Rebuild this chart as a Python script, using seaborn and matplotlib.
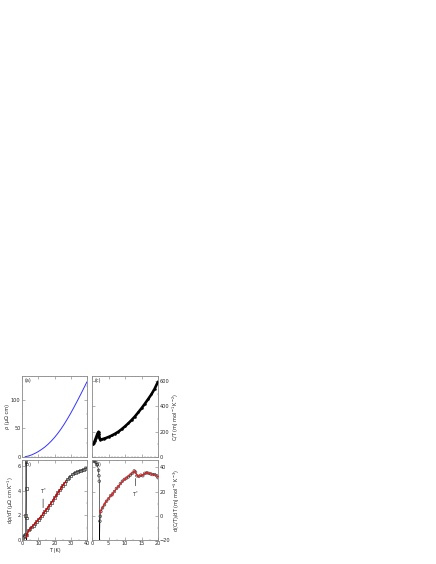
import numpy as np
import pandas as pd
import matplotlib
matplotlib.use("Agg")
import matplotlib.pyplot as plt
import seaborn as sns
from matplotlib.ticker import MultipleLocator

# (a) resistivity
T_rho = [2, 4, 6, 8, 10, 12, 14, 16, 18, 20, 22, 24, 26, 28, 30, 32, 34, 36, 38, 40]
rho = [0.5, 1.8, 3.8, 6.4, 9.5, 13.2, 17.4, 22.3, 27.9, 34.2, 41.3, 49.1, 57.7,
       67.0, 76.9, 87.3, 98.1, 109.2, 120.5, 132.0]

# (b) d rho / dT
T_drho = [0.5, 1.0, 1.5, 2.0, 2.3, 2.5, 2.6, 2.7, 2.8, 3, 4, 5, 6, 7, 8, 9, 10, 11, 12,
          13, 14, 15, 16, 17, 18, 19, 20, 21, 22, 23, 24, 25, 26, 27, 28, 29, 30,
          31, 32, 33, 34, 35, 36, 37, 38, 39, 40]
drho = [0.2, 0.3, 0.35, 0.5, 2.0, 6.4, 4.2, 1.8, -0.5, 0.4, 0.8, 0.95, 1.05, 1.2,
        1.35, 1.5, 1.65, 1.8, 1.95, 2.15, 2.3, 2.5, 2.65, 2.85, 3.05, 3.25, 3.45,
        3.65, 3.85, 4.05, 4.25, 4.45, 4.6, 4.8, 4.95, 5.1, 5.2, 5.35, 5.45, 5.5,
        5.55, 5.6, 5.65, 5.7, 5.75, 5.8, 5.85]
T_fit_b = [2.6, 4, 6, 8, 10, 12, 14, 16, 18, 20, 22, 24, 26, 27]
fit_b = [0.2, 0.75, 1.05, 1.35, 1.65, 1.95, 2.3, 2.65, 3.0, 3.4, 3.8, 4.2, 4.6, 4.75]

# (c) C/T
T_ct = [0.4, 0.6, 0.8, 1.0, 1.2, 1.4, 1.6, 1.8, 2.0, 2.1, 2.2, 2.3, 2.5, 3.0, 3.5, 4,
        5, 6, 7, 8, 9, 10, 11, 12, 13, 14, 15, 16, 17, 18, 19, 20]
ct = [100, 112, 125, 138, 152, 166, 180, 192, 200, 185, 160, 145, 138, 140, 144,
      148, 158, 170, 184, 200, 220, 242, 266, 292, 320, 352, 385, 420, 457, 495,
      540, 595]

# (d) d(C/T)/dT
T_dct = [0.4, 0.8, 1.2, 1.6, 2.0, 2.1, 2.2, 2.3, 2.4, 2.5, 2.7, 3.2, 3.8, 4.4, 5.0,
         5.6, 6.2, 6.8, 7.4, 8.0, 8.6, 9.2, 9.8, 10.4, 11.0, 11.6, 12.2, 12.8,
         13.2, 13.6, 14.2, 14.8, 15.4, 16.0, 16.6, 17.2, 17.8, 18.4, 19.0, 19.6, 20.0]
dct = [45, 45, 44, 42, 37.5, 33, 28.5, -22, -4.5, -0.5, 3.5, 6.5, 9, 12, 14, 16.5,
       18, 20, 22.5, 24, 26.5, 28.5, 30, 31, 32, 33.5, 35, 37, 36, 33, 32.5, 33.5,
       33, 35, 35.5, 35, 34.5, 34, 34, 33, 31.5]
T_fit_d = [2.3, 4, 6, 8, 10, 12.8, 13.8, 15, 16.5, 18, 20]
fit_d = [3, 11, 17.5, 24.5, 30.5, 37, 33, 33.5, 35.5, 34.5, 32.5]

sns.set_style("ticks")
fs = 3.6
W, H = 436, 564
fig = plt.figure(figsize=(W / 100, H / 100), dpi=100)


def box(x0, y0, x1, y1):
    return [x0 / W, 1 - y1 / H, (x1 - x0) / W, (y1 - y0) / H]


ax_a = fig.add_axes(box(22, 376, 87, 457))
ax_c = fig.add_axes(box(92, 376, 158, 457))
ax_b = fig.add_axes(box(22, 460, 87, 540))
ax_d = fig.add_axes(box(92, 460, 158, 540))

sns.lineplot(x=T_rho, y=rho, ax=ax_a, color="#3333ff", lw=0.7)
ax_a.set_xlim(0, 40)
ax_a.set_ylim(0, 142)
ax_a.yaxis.set_major_locator(MultipleLocator(50))
ax_a.yaxis.set_minor_locator(MultipleLocator(25))
ax_a.set_ylabel("ρ (μΩ cm)", fontsize=fs, labelpad=1)

ax_b.plot(T_drho, drho, color="black", lw=0.4, zorder=1)
sns.scatterplot(x=T_drho, y=drho, ax=ax_b, marker="s", s=3.5, facecolor="none",
                edgecolor="#333333", linewidth=0.45, zorder=2)
sns.lineplot(x=T_fit_b, y=fit_b, ax=ax_b, color="#dd0000", lw=1.0, zorder=3)
ax_b.annotate("", xy=(13, 2.4), xytext=(13, 3.55),
              arrowprops=dict(arrowstyle="-", color="#555555", lw=0.6))
ax_b.text(13, 3.6, "T$^{*}$", fontsize=fs, ha="center", va="bottom")
ax_b.set_xlim(0, 40)
ax_b.set_ylim(0, 6.5)
ax_b.xaxis.set_major_locator(MultipleLocator(10))
ax_b.xaxis.set_minor_locator(MultipleLocator(5))
ax_b.yaxis.set_major_locator(MultipleLocator(2))
ax_b.yaxis.set_minor_locator(MultipleLocator(1))
ax_b.set_ylabel("dρ/dT (μΩ cm K$^{-1}$)", fontsize=fs, labelpad=1)
ax_b.set_xlabel("T (K)", fontsize=fs, labelpad=1)

sns.lineplot(x=T_ct, y=ct, ax=ax_c, color="black", lw=1.9, marker="o", ms=1.8,
             markeredgewidth=0)
ax_c.set_xlim(0, 20)
ax_c.set_ylim(0, 640)
ax_c.yaxis.set_major_locator(MultipleLocator(200))
ax_c.yaxis.set_minor_locator(MultipleLocator(100))
ax_c.yaxis.tick_right()
ax_c.yaxis.set_label_position("right")
ax_c.set_ylabel("C/T (mJ mol$^{-1}$ K$^{-2}$)", fontsize=fs, labelpad=1)

ax_d.plot(T_dct, dct, color="black", lw=0.4, zorder=1)
sns.scatterplot(x=T_dct, y=dct, ax=ax_d, marker="o", s=3.5, facecolor="none",
                edgecolor="#333333", linewidth=0.45, zorder=2)
sns.lineplot(x=T_fit_d, y=fit_d, ax=ax_d, color="#ee2222", lw=0.8, marker="o",
             ms=1.3, markeredgewidth=0, zorder=3)
ax_d.annotate("", xy=(13.2, 22.5), xytext=(13.2, 33),
              arrowprops=dict(arrowstyle="-", color="#555555", lw=0.6))
ax_d.text(13.2, 21.5, "T$^{*}$", fontsize=fs, ha="center", va="top")
ax_d.set_xlim(0, 20)
ax_d.set_ylim(-20, 46)
ax_d.xaxis.set_major_locator(MultipleLocator(5))
ax_d.xaxis.set_minor_locator(MultipleLocator(2.5))
ax_d.yaxis.set_major_locator(MultipleLocator(20))
ax_d.yaxis.set_minor_locator(MultipleLocator(10))
ax_d.yaxis.tick_right()
ax_d.yaxis.set_label_position("right")
ax_d.set_ylabel("d(C/T)/dT (mJ mol$^{-1}$ K$^{-3}$)", fontsize=fs, labelpad=1)

for ax, lab in [(ax_a, "(a)"), (ax_b, "(b)"), (ax_c, "(c)"), (ax_d, "(d)")]:
    ax.text(0.04, 0.97, lab, transform=ax.transAxes, fontsize=fs, va="top", ha="left")
    ax.tick_params(which="both", direction="in", top=True, bottom=True, left=True,
                   right=True, labelsize=fs, pad=1, color="#777777")
    ax.tick_params(which="major", length=2, width=0.4)
    ax.tick_params(which="minor", length=1, width=0.3)
    for sp in ax.spines.values():
        sp.set_color("#888888")
        sp.set_linewidth(0.6)

ax_a.xaxis.set_major_locator(MultipleLocator(10))
ax_a.xaxis.set_minor_locator(MultipleLocator(2))
ax_c.xaxis.set_major_locator(MultipleLocator(5))
ax_c.xaxis.set_minor_locator(MultipleLocator(1))
ax_a.tick_params(labelbottom=False)
ax_c.tick_params(labelbottom=False, labelleft=False, labelright=True)
ax_d.tick_params(labelleft=False, labelright=True)
ax_c.set_xlabel("")
ax_a.set_xlabel("")

fig.savefig("out.png", dpi=100)
